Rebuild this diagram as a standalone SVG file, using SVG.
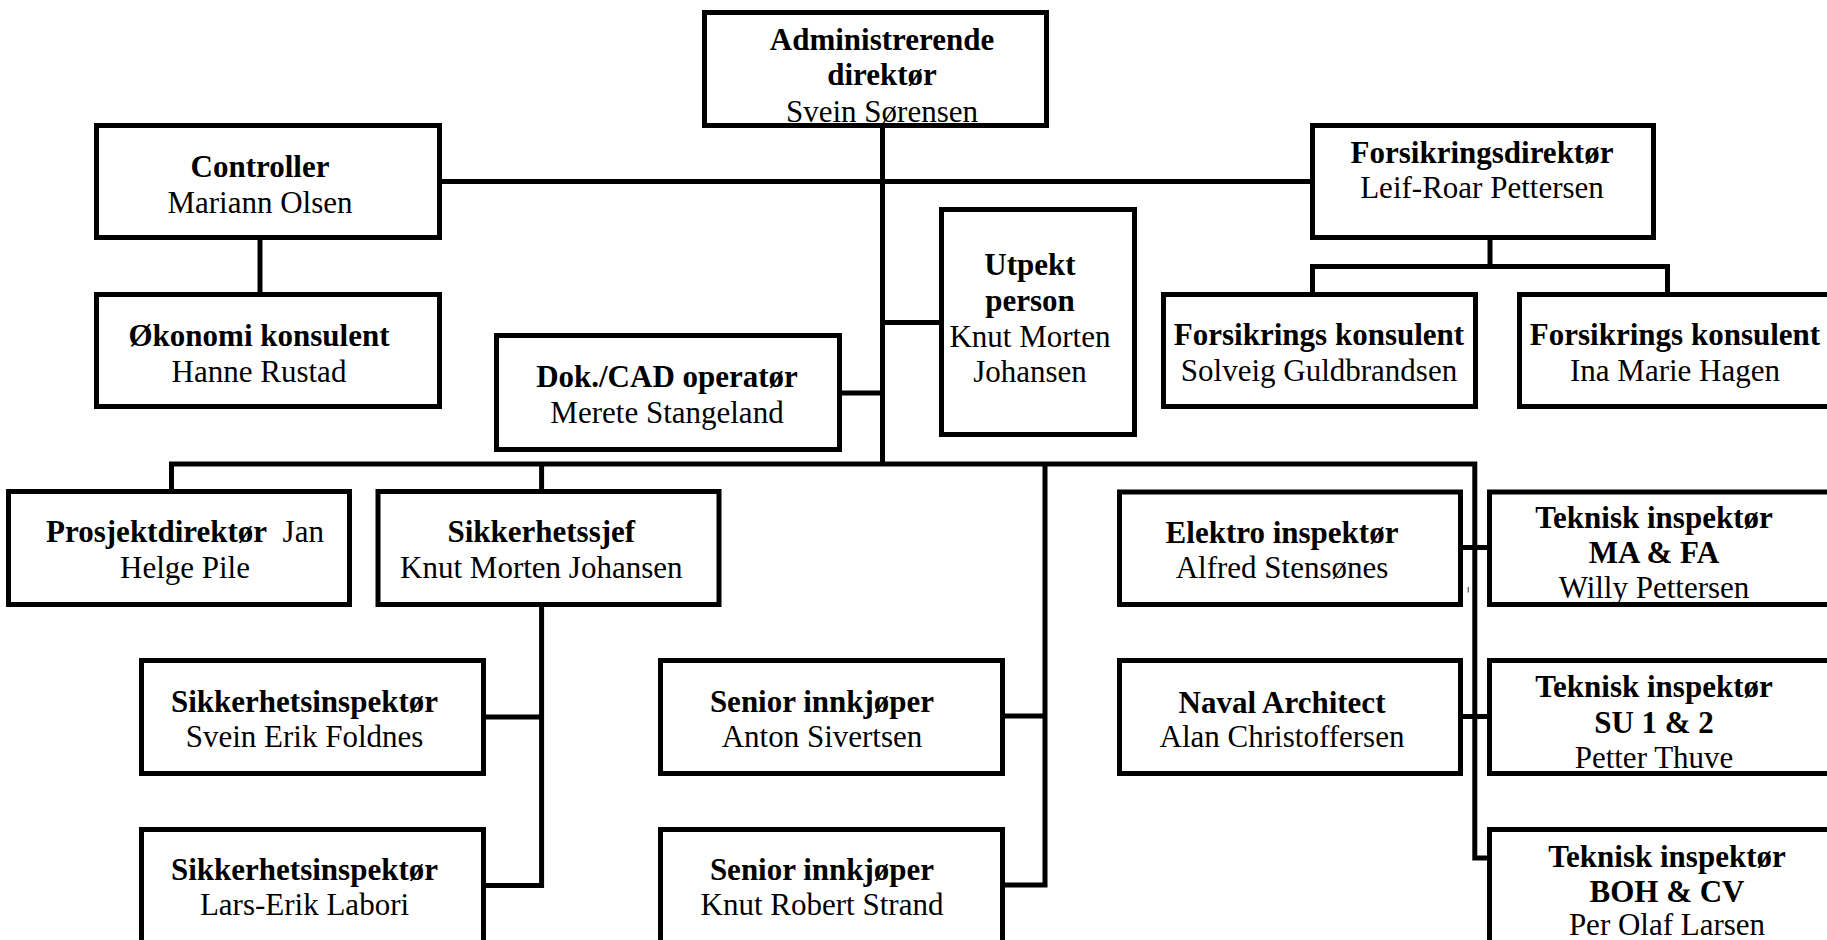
<svg xmlns="http://www.w3.org/2000/svg" width="1827" height="940" viewBox="0 0 1827 940">
<style>
.box{fill:#fff;stroke:#000;stroke-width:5}
.ln{fill:none;stroke:#000;stroke-width:5;stroke-linejoin:miter;stroke-linecap:butt}
text{font-family:"Liberation Serif","Times New Roman",serif;font-size:31px;fill:#000;text-anchor:middle}
.b{font-weight:bold}
</style>
<rect width="1827" height="940" fill="#fff"/>
<g id="connectors">
<line class="ln" x1="882.5" y1="126" x2="882.5" y2="464"/>
<line class="ln" x1="440" y1="181.5" x2="1312" y2="181.5"/>
<line class="ln" x1="260" y1="238" x2="260" y2="294"/>
<line class="ln" x1="882.5" y1="322.5" x2="941" y2="322.5"/>
<line class="ln" x1="840" y1="393" x2="882.5" y2="393"/>
<polyline class="ln" points="171.5,491 171.5,464 1474.8,464 1474.8,858 1489,858"/>
<line class="ln" x1="541.6" y1="464" x2="541.6" y2="491"/>
<polyline class="ln" points="541.6,605 541.6,885.5 484,885.5"/>
<line class="ln" x1="484" y1="717" x2="541.6" y2="717"/>
<polyline class="ln" points="1045,464 1045,885 1003,885"/>
<line class="ln" x1="1003" y1="716" x2="1045" y2="716"/>
<line class="ln" x1="1461" y1="547.5" x2="1489" y2="547.5"/>
<line class="ln" x1="1461" y1="716.5" x2="1489" y2="716.5"/>
<line class="ln" x1="1490" y1="238" x2="1490" y2="266.5"/>
<polyline class="ln" points="1312.5,294 1312.5,266.5 1667.5,266.5 1667.5,294"/>
<line x1="1468.3" y1="587" x2="1468.3" y2="592.5" stroke="#555" stroke-width="1.2"/>
</g>
<g id="admin">
<rect class="box" x="704.5" y="12.5" width="342" height="113"/>
<text x="882" y="50" class="b">Administrerende</text>
<text x="882" y="85" class="b">direktør</text>
<text x="882" y="121.5">Svein Sørensen</text>
</g>
<g id="controller">
<rect class="box" x="96.5" y="125.5" width="343" height="112"/>
<text x="260" y="177.3" class="b">Controller</text>
<text x="260" y="213.3">Mariann Olsen</text>
</g>
<g id="okonomi">
<rect class="box" x="96.5" y="294.5" width="343" height="112"/>
<text x="259" y="346" class="b">Økonomi konsulent</text>
<text x="259" y="381.7">Hanne Rustad</text>
</g>
<g id="forsikringsdirektor">
<rect class="box" x="1312.5" y="125.5" width="341" height="112"/>
<text x="1482" y="163.3" class="b">Forsikringsdirektør</text>
<text x="1482" y="198.3">Leif-Roar Pettersen</text>
</g>
<g id="forsikrings-konsulent-1">
<rect class="box" x="1163.5" y="294.5" width="312" height="112"/>
<text x="1319" y="345" class="b">Forsikrings konsulent</text>
<text x="1319" y="381">Solveig Guldbrandsen</text>
</g>
<g id="forsikrings-konsulent-2">
<rect class="box" x="1519.5" y="294.5" width="315" height="112"/>
<text x="1675" y="345" class="b">Forsikrings konsulent</text>
<text x="1675" y="381">Ina Marie Hagen</text>
</g>
<g id="utpekt">
<rect class="box" x="941.5" y="209.5" width="193" height="225"/>
<text x="1030" y="275" class="b">Utpekt</text>
<text x="1030" y="310.5" class="b">person</text>
<text x="1030" y="346.7">Knut Morten</text>
<text x="1030" y="381.7">Johansen</text>
</g>
<g id="dok-cad">
<rect class="box" x="496.5" y="335.5" width="343" height="114"/>
<text x="667" y="387.3" class="b">Dok./CAD operatør</text>
<text x="667" y="422.7">Merete Stangeland</text>
</g>
<g id="prosjektdirektor">
<rect class="box" x="8.5" y="491.5" width="341" height="113"/>
<text x="185" y="541.7"><tspan class="b">Prosjektdirektør</tspan>&#160; Jan</text>
<text x="185" y="577.7">Helge Pile</text>
</g>
<g id="sikkerhetssjef">
<rect class="box" x="378" y="491.5" width="341" height="113"/>
<text x="541.3" y="541.7" class="b">Sikkerhetssjef</text>
<text x="541.3" y="577.7">Knut Morten Johansen</text>
</g>
<g id="sikkerhetsinspektor-1">
<rect class="box" x="141.5" y="660.5" width="342" height="113"/>
<text x="304.5" y="711.7" class="b">Sikkerhetsinspektør</text>
<text x="304.5" y="746.7">Svein Erik Foldnes</text>
</g>
<g id="sikkerhetsinspektor-2">
<rect class="box" x="141.5" y="829.5" width="342" height="130"/>
<text x="304.5" y="880" class="b">Sikkerhetsinspektør</text>
<text x="304.5" y="915">Lars-Erik Labori</text>
</g>
<g id="senior-innkjoper-1">
<rect class="box" x="660.5" y="660.5" width="342" height="113"/>
<text x="822" y="711.7" class="b">Senior innkjøper</text>
<text x="822" y="746.7">Anton Sivertsen</text>
</g>
<g id="senior-innkjoper-2">
<rect class="box" x="660.5" y="829.5" width="342" height="130"/>
<text x="822" y="880" class="b">Senior innkjøper</text>
<text x="822" y="915">Knut Robert Strand</text>
</g>
<g id="elektro">
<rect class="box" x="1119.5" y="492" width="341" height="112.5"/>
<text x="1282" y="542.7" class="b">Elektro inspektør</text>
<text x="1282" y="578.3">Alfred Stensønes</text>
</g>
<g id="naval">
<rect class="box" x="1119.5" y="660.5" width="341" height="113"/>
<text x="1282" y="712.7" class="b">Naval Architect</text>
<text x="1282" y="747.3">Alan Christoffersen</text>
</g>
<g id="teknisk-1">
<rect class="box" x="1489.5" y="492" width="345" height="112.5"/>
<text x="1654" y="528.3" class="b">Teknisk inspektør</text>
<text x="1654" y="563.3" class="b">MA &amp; FA</text>
<text x="1654" y="598.3">Willy Pettersen</text>
</g>
<g id="teknisk-2">
<rect class="box" x="1489.5" y="660.5" width="345" height="113"/>
<text x="1654" y="696.7" class="b">Teknisk inspektør</text>
<text x="1654" y="732.7" class="b">SU 1 &amp; 2</text>
<text x="1654" y="768.3">Petter Thuve</text>
</g>
<g id="teknisk-3">
<rect class="box" x="1489.5" y="829.5" width="345" height="130"/>
<text x="1667" y="866.7" class="b">Teknisk inspektør</text>
<text x="1667" y="901.7" class="b">BOH &amp; CV</text>
<text x="1667" y="934.5">Per Olaf Larsen</text>
</g>
</svg>
